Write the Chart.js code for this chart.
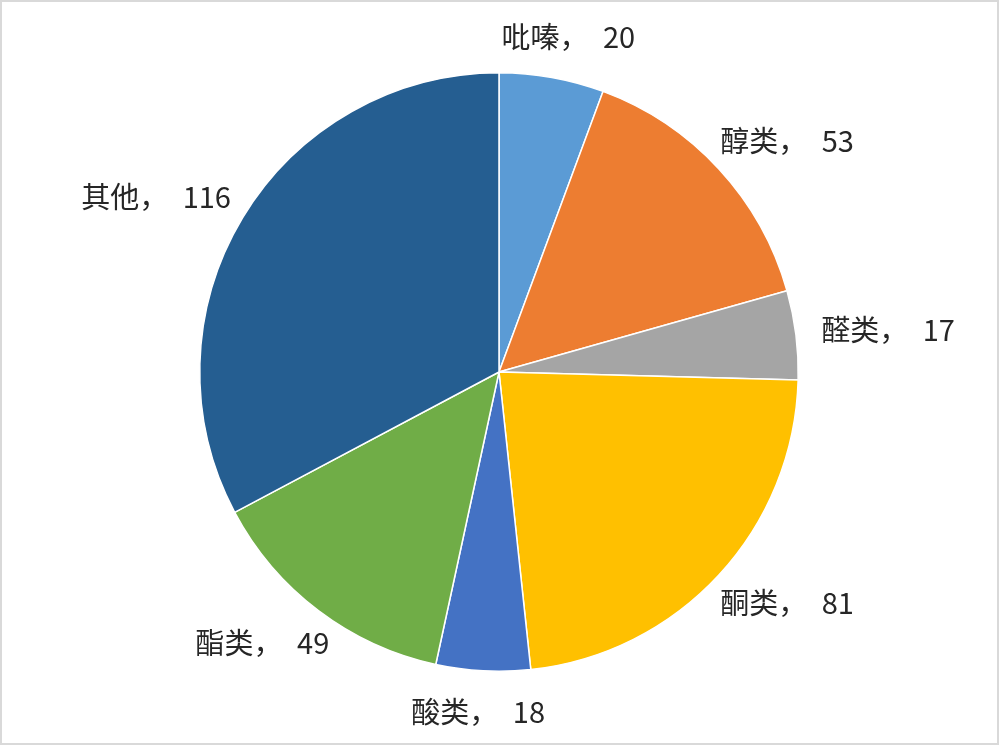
<!DOCTYPE html>
<html>
<head>
<meta charset="utf-8">
<script src="https://cdn.jsdelivr.net/npm/chart.js@4.4.1/dist/chart.umd.min.js"></script>
<style>
  html, body { margin: 0; padding: 0; background: #fff; }
  #wrap { position: relative; width: 1000px; height: 746px; }
  #frame { position: absolute; left: 0; top: 0; width: 995px; height: 741px; border: 2px solid #d9d9d9; pointer-events: none; }
</style>
</head>
<body>
<div id="wrap">
  <canvas id="pieChart" width="1000" height="746"></canvas>
  <div id="frame"></div>
</div>
<script>
// categories and counts, clockwise from 12 o'clock
const categories = ['吡嗪', '醇类', '醛类', '酮类', '酸类', '酯类', '其他'];
const counts = [20, 53, 17, 81, 18, 49, 116];
const sliceColors = ['#5B9BD5', '#ED7D31', '#A5A5A5', '#FFC000', '#4472C4', '#70AD47', '#255E91'];

const labelFont = '29px "Noto Sans CJK SC", "Noto Sans", sans-serif';

// draws "name，value" outside the end of each slice
const outsideLabels = {
  id: 'outsideLabels',
  afterDatasetsDraw(chart) {
    const ctx = chart.ctx;
    const arcs = chart.getDatasetMeta(0).data;
    ctx.save();
    ctx.font = labelFont;
    ctx.fillStyle = '#262626';
    ctx.textAlign = 'center';
    ctx.textBaseline = 'middle';
    arcs.forEach((arc, i) => {
      const p = arc.getProps(['x', 'y', 'startAngle', 'endAngle', 'outerRadius'], true);
      const mid = (p.startAngle + p.endAngle) / 2;
      const dx = Math.cos(mid), dy = Math.sin(mid);
      const text = categories[i] + '，\u2002' + counts[i];
      const w = ctx.measureText(text).width;
      const h = 30;
      const gap = 26;
      const ax = p.x + (p.outerRadius + gap) * dx;
      const ay = p.y + (p.outerRadius + gap) * dy;
      ctx.fillText(text, ax + dx * w / 2, ay + dy * h / 2);
    });
    ctx.restore();
  }
};

new Chart(document.getElementById('pieChart').getContext('2d'), {
  type: 'pie',
  data: {
    labels: categories,
    datasets: [{
      data: counts,
      backgroundColor: sliceColors,
      borderColor: '#ffffff',
      borderWidth: 1.5
    }]
  },
  options: {
    responsive: false,
    animation: false,
    layout: {
      padding: { top: 72, bottom: 74, left: 199, right: 201 }
    },
    plugins: {
      legend: { display: false },
      tooltip: { enabled: false }
    }
  },
  plugins: [outsideLabels]
});
</script>
</body>
</html>
